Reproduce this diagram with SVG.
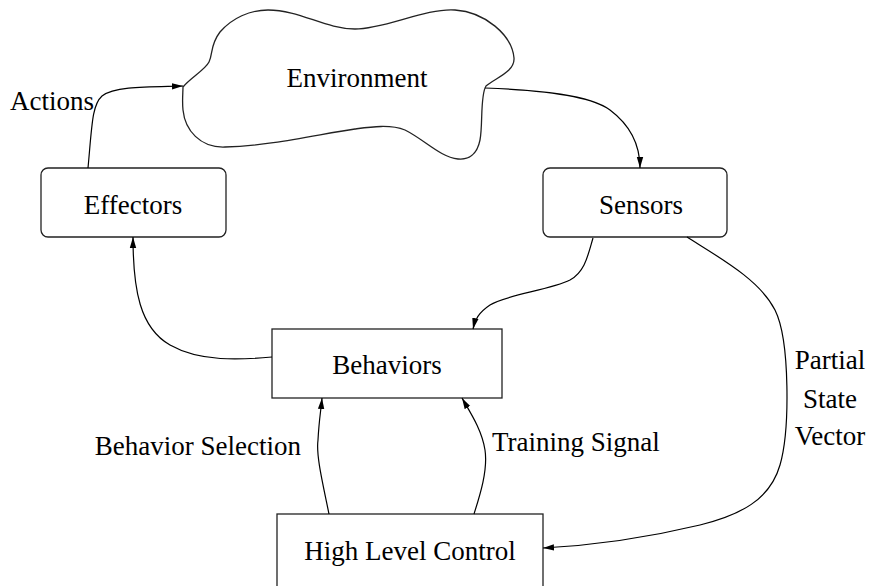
<svg xmlns="http://www.w3.org/2000/svg" width="871" height="586" viewBox="0 0 871 586">
  <style>
    .box { fill: #fff; stroke: #222; stroke-width: 1.3; }
    .edge { fill: none; stroke: #000; stroke-width: 1.2; }
    .lbl { font-family: "Liberation Serif", "Times New Roman", serif; font-size: 27px; fill: #000; }
    .mid { text-anchor: middle; }
  </style>
  <defs>
    <marker id="arrow" markerUnits="userSpaceOnUse" markerWidth="12" markerHeight="8" refX="11" refY="4" orient="auto">
      <path d="M0,0.8 L11,4 L0,7.2 Z" fill="#000"/>
    </marker>
  </defs>
  <rect width="871" height="586" fill="#fff"/>

  <g id="environment">
    <path class="box" d="M183,87 C190,78 205,70 209,62 C213,54 210,45 220,32 C232,18 250,10 268,10 C300,10 325,29 355,29 C385,29 425,8 455,10 C485,12 512,35 514,58 C515,72 495,78 486,86 C480,95 483,125 480,140 C477,155 468,160 458,159 C440,157 425,140 405,130 C390,124 370,127 355,129 C320,134 270,146 225,147 C200,148 185,130 183,110 C182,100 183,93 183,87 Z"/>
    <text class="lbl mid" x="357" y="87">Environment</text>
  </g>

  <g id="effectors">
    <rect class="box" x="41" y="168" width="185" height="69" rx="7"/>
    <text class="lbl mid" x="133" y="214">Effectors</text>
  </g>

  <g id="sensors">
    <rect class="box" x="543" y="168" width="184" height="69" rx="7"/>
    <text class="lbl mid" x="641" y="214">Sensors</text>
  </g>

  <g id="behaviors">
    <rect class="box" x="272" y="329" width="230" height="69"/>
    <text class="lbl mid" x="387" y="374">Behaviors</text>
  </g>

  <g id="high-level-control">
    <rect class="box" x="277" y="514" width="266" height="90"/>
    <text class="lbl mid" x="410" y="560">High Level Control</text>
  </g>

  <g id="connectors">
    <path class="edge" marker-end="url(#arrow)" d="M88,168 C92,125 92,105 102,96 C115,86 150,87 183,86"/>
    <path class="edge" marker-end="url(#arrow)" d="M485,88 C540,90 590,95 610,110 C630,125 640,145 640,168"/>
    <path class="edge" marker-end="url(#arrow)" d="M593,238 C588,255 585,272 570,280 C550,290 505,295 490,305 C478,313 475,320 473,329"/>
    <path class="edge" marker-end="url(#arrow)" d="M272,357 C240,360 200,362 170,345 C140,328 133,290 133,237"/>
    <path class="edge" marker-end="url(#arrow)" d="M329,514 C322,480 316,455 318,440 C319,420 321,410 322,398"/>
    <path class="edge" marker-end="url(#arrow)" d="M474,514 C480,495 488,470 485,450 C482,430 470,412 462,398"/>
    <path class="edge" marker-end="url(#arrow)" d="M687,237 C720,258 760,280 775,310 C790,340 790,430 780,465 C770,500 740,515 700,525 C650,537 600,545 543,548"/>
    <text class="lbl mid" x="52" y="110">Actions</text>
    <text class="lbl" x="301" y="455" text-anchor="end">Behavior Selection</text>
    <text class="lbl" x="492" y="451">Training Signal</text>
    <text class="lbl mid" x="830" y="369">Partial</text>
    <text class="lbl mid" x="830" y="408">State</text>
    <text class="lbl mid" x="830" y="445">Vector</text>
  </g>
</svg>
